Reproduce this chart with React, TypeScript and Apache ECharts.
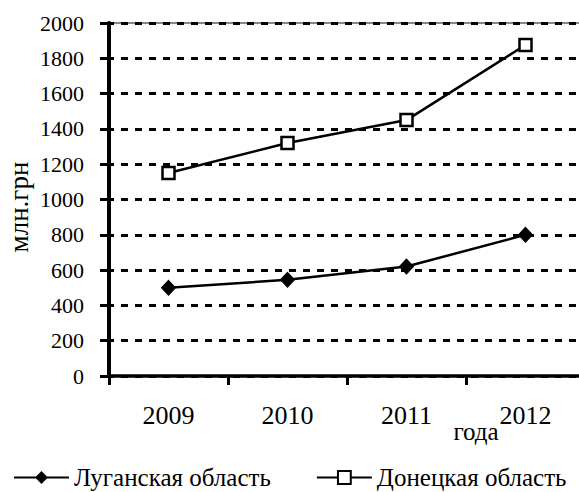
import React, { useEffect, useRef } from "react";
import * as echarts from "echarts";

const years = ["2009", "2010", "2011", "2012"];
const lugansk = [500, 545, 620, 800];
const donetsk = [1150, 1320, 1450, 1875];
const seriesNames = ["Луганская область", "Донецкая область"];
const yAxisName = "млн.грн";
const xAxisName = "года";

const FONT = "'Liberation Serif', 'Times New Roman', 'DejaVu Serif', serif";

export default function App() {
  const ref = useRef<HTMLDivElement>(null);
  useEffect(() => {
    document.body.style.margin = "0";
    const chart = echarts.init(ref.current!, undefined, { renderer: "svg" });
    chart.setOption({
      animation: false,
      backgroundColor: "#ffffff",
      textStyle: { fontFamily: FONT, color: "#000" },
      grid: {
        left: 109,
        top: 23,
        width: 476,
        height: 353,
        containLabel: false,
        outerBoundsMode: "none",
      },
      legend: {
        left: 13,
        top: 465,
        padding: 0,
        itemWidth: 55,
        itemHeight: 16,
        itemGap: 45,
        textStyle: { fontFamily: FONT, fontSize: 25, color: "#000" },
        data: seriesNames,
      },
      xAxis: {
        type: "category",
        data: years,
        boundaryGap: true,
        z: 6,
        axisLine: { show: true, lineStyle: { color: "#000000", width: 3.5 } },
        axisTick: { show: true, length: 9, lineStyle: { color: "#000000", width: 3 } },
        axisLabel: { margin: 26, fontSize: 26, color: "#000", fontFamily: FONT },
        splitLine: { show: false },
      },
      yAxis: {
        type: "value",
        min: 0,
        max: 2000,
        interval: 200,
        z: 6,
        axisLine: { show: true, onZero: false, lineStyle: { color: "#000000", width: 4 } },
        axisTick: { show: true, length: 9, lineStyle: { color: "#000000", width: 3 } },
        axisLabel: {
          margin: 25,
          fontSize: 22,
          color: "#000",
          fontFamily: FONT,
          formatter: (v: number) => String(v),
        },
        splitLine: {
          show: true,
          lineStyle: { color: "#000", width: 3, type: [7, 7], dashOffset: 2 },
        },
      },
      graphic: [
        {
          type: "text",
          x: 476,
          y: 431,
          style: {
            text: xAxisName,
            fontSize: 25,
            fontFamily: FONT,
            fill: "#000",
            textAlign: "center",
            textVerticalAlign: "middle",
          },
        },
        {
          type: "text",
          x: 19,
          y: 207,
          rotation: Math.PI / 2,
          style: {
            text: yAxisName,
            fontSize: 27,
            fontFamily: FONT,
            fill: "#000",
            textAlign: "center",
            textVerticalAlign: "middle",
          },
        },
      ],
      series: [
        {
          name: seriesNames[0],
          type: "line",
          data: lugansk,
          symbol: "diamond",
          symbolSize: [14, 15],
          lineStyle: { color: "#000", width: 2.5 },
          itemStyle: { color: "#000", borderColor: "#000" },
          z: 3,
        },
        {
          name: seriesNames[1],
          type: "line",
          data: donetsk,
          symbol: "rect",
          symbolSize: [12, 12],
          lineStyle: { color: "#000", width: 2.5 },
          itemStyle: { color: "#fff", borderColor: "#000", borderWidth: 2.5 },
          z: 3,
          markLine: {
            silent: true,
            symbol: "none",
            label: { show: false },
            lineStyle: { color: "#888", width: 2, type: "solid" },
            data: [{ yAxis: 2000 }],
          },
        },
      ],
    });
    return () => chart.dispose();
  }, []);
  return <div ref={ref} style={{ width: 579, height: 492 }} />;
}
